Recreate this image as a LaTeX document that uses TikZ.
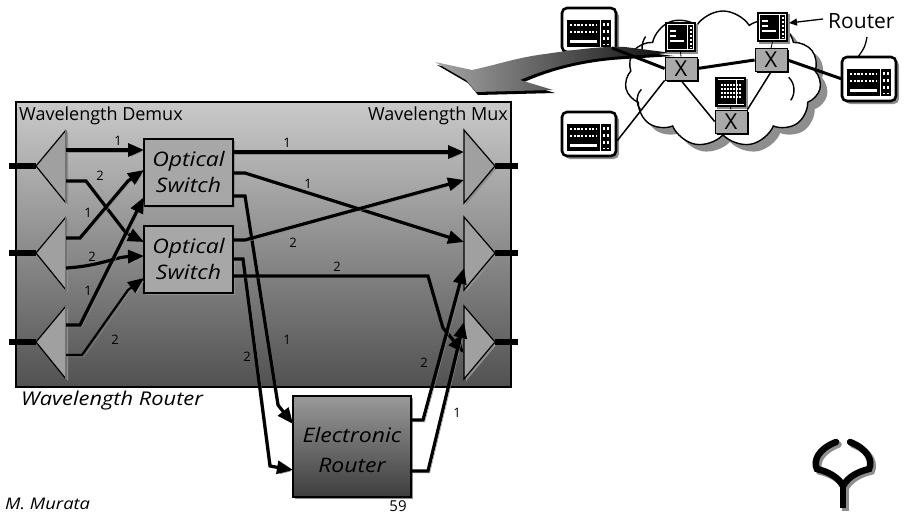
\documentclass[tikz,border=0pt]{standalone}
\usepackage{fontspec}
\setmainfont{Open Sans}
\newfontfamily\wideit{Open Sans}[FakeStretch=1.15]
\usetikzlibrary{arrows.meta,shapes.symbols,shadows}

\definecolor{shadegray}{HTML}{8E8E8E}
\definecolor{trigray}{HTML}{A0A0A0}
\definecolor{switchgray}{HTML}{A7A7A7}
\definecolor{xgray}{HTML}{A9A9A9}

\tikzset{
  wire/.style={line width=3.2pt, preaction={draw=shadegray, transform canvas={shift={(1.8pt,-1.8pt)}}}},
  slimwire/.style={wire, line width=2.2pt},
  arr/.style={-{Triangle[length=16pt,width=13pt]}},
  chan/.style={font=\fontsize{13}{13}\selectfont, inner sep=0pt},
  fiber/.style={line width=6pt},
  switchbox/.style={draw, line width=2pt, fill=switchgray, minimum width=89pt, minimum height=67pt,
    align=center, inner sep=0pt, font=\wideit\itshape\fontsize{20}{26}\selectfont,
    drop shadow={shadow xshift=2pt, shadow yshift=-2pt, fill=shadegray, opacity=1}},
  xbox/.style={draw, line width=0.8pt, fill=xgray, minimum width=32pt, minimum height=23pt,
    inner sep=0pt, font=\fontsize{22}{22}\selectfont,
    drop shadow={shadow xshift=1.5pt, shadow yshift=-1.5pt, fill=black, opacity=1}},
  netthick/.style={line width=3pt},
  netthin/.style={line width=1.5pt},
  terminal/.pic={
    \fill[shadegray, rounded corners=5pt] (3,3) rectangle (57,47);
    \draw[line width=2.6pt, fill=white, rounded corners=5pt] (0,0) rectangle (54,44);
    \fill (5,12) rectangle (49,39);
    \draw[white, line width=2.4pt, dash pattern=on 2.2pt off 1.5pt] (8,17) -- (35,17) (8,24) -- (35,24);
    \fill[white] (8,32) rectangle (35,35);
    \draw[white, line width=0.9pt] (38,12) -- (38,39);
    \draw[white, line width=2.6pt, dash pattern=on 2.6pt off 4.4pt] (42,15) -- (42,37) (46,15) -- (46,37);
  },
  monitor/.pic={
    \fill[shadegray] (2,2) rectangle (33,32);
    \fill (0,0) rectangle (31,30);
    \draw[white, line width=0.7pt] (2.5,2.5) rectangle (28.5,27.5);
    \draw[white, line width=1.6pt] (5,9) -- (11,9) (5,14) -- (11,14) (5,19) -- (19,19);
    \draw[white, line width=0.7pt] (22,2.5) -- (22,27.5);
    \draw[white, line width=2pt, dash pattern=on 2pt off 2pt] (25.5,5) -- (25.5,26);
  },
  listmonitor/.pic={
    \fill[shadegray] (2,2) rectangle (33,32);
    \fill (0,0) rectangle (31,30);
    \draw[white, line width=0.7pt] (2.5,2.5) -- (28.5,2.5) (2.5,27.5) -- (28.5,27.5);
    \draw[white, line width=1.6pt, dash pattern=on 2pt off 1pt] (6,8) -- (26,8) (6,12) -- (26,12) (6,16) -- (26,16) (6,20) -- (26,20);
    \draw[white, line width=0.7pt] (21,2.5) -- (21,27.5);
  },
}

\begin{document}
\begin{tikzpicture}[x=1pt, y=-1pt]
\useasboundingbox (0,0) rectangle (908,514);

% ---------------- wavelength router frame ----------------
\shade[top color=black!21, middle color=black!35, bottom color=black!68]
  (16,102) rectangle (511,387);
\draw[line width=1.8pt] (16,102) rectangle (511,387);
\node[anchor=base west, font=\fontsize{18}{18}\selectfont, inner sep=0pt] (demuxlbl) at (19,120) {Wavelength Demux};
\node[anchor=base east, font=\fontsize{18}{18}\selectfont, inner sep=0pt] (muxlbl) at (508,120) {Wavelength Mux};
\node[anchor=base west, font=\wideit\itshape\fontsize{19}{19}\selectfont, inner sep=0pt] (routerlbl) at (21,405) {Wavelength Router};

% ---------------- demultiplexers ----------------
\foreach \yc/\nm in {166/d1, 253/d2, 342/d3}{
  \fill[shadegray] (68,\yc-34) -- (38,\yc+2) -- (68,\yc+39) -- cycle;
  \fill[trigray] (66,\yc-36) -- (36,\yc) -- (66,\yc+37) -- cycle;
  \draw[line width=1.2pt] (66,\yc-36) -- (36,\yc) -- (66,\yc+37);
  \draw[black!55, line width=2pt] (66,\yc-36) -- (66,\yc+37);
  \coordinate (\nm apex) at (36,\yc);
  \coordinate (\nm in) at (9,\yc);
  \draw[fiber] (\nm in) -- (\nm apex);
}

% ---------------- multiplexers ----------------
\foreach \yc/\nm in {166/m1, 253/m2, 342/m3}{
  \fill[shadegray] (466,\yc-34) -- (497,\yc+2) -- (466,\yc+39) -- cycle;
  \draw[line width=1.2pt, fill=trigray] (464,\yc-36) -- (495,\yc) -- (464,\yc+37) -- cycle;
  \coordinate (\nm apex) at (495,\yc);
  \coordinate (\nm out) at (518,\yc);
  \draw[fiber] (\nm apex) -- (\nm out);
}

% ---------------- optical switches ----------------
\node[switchbox] (sw1) at (188.5,172) {Optical\\Switch};
\node[switchbox] (sw2) at (188.5,259) {Optical\\Switch};

% ---------------- electronic router ----------------
\shade[top color=black!40, bottom color=black!76, drop shadow={shadow xshift=2pt, shadow yshift=-2pt, fill=shadegray, opacity=1}]
  (293,396) rectangle (411,497);
\draw[line width=1.8pt] (293,396) rectangle (411,497);
\node[align=center, font=\wideit\itshape\fontsize{20}{30}\selectfont, inner sep=0pt] (er) at (352,450) {Electronic\\Router};

% ---------------- ports ----------------
\coordinate (d1a) at (66,150);  \coordinate (d1b) at (66,181);
\coordinate (d2a) at (66,238);  \coordinate (d2b) at (66,268);
\coordinate (d3a) at (66,325);  \coordinate (d3b) at (66,355);
\coordinate (s1a) at (144,150); \coordinate (s1b) at (144,170); \coordinate (s1c) at (144,197);
\coordinate (s2a) at (144,242); \coordinate (s2b) at (144,256); \coordinate (s2c) at (144,278);
\coordinate (s1x) at (233,152); \coordinate (s1y) at (233,173); \coordinate (s1z) at (233,196);
\coordinate (s2x) at (233,240); \coordinate (s2y) at (233,259); \coordinate (s2z) at (233,276);
\coordinate (m1a) at (464,152); \coordinate (m1b) at (464,180);
\coordinate (m2a) at (464,242); \coordinate (m2b) at (464,268);
\coordinate (m3a) at (464,322); \coordinate (m3b) at (464,353);
\coordinate (ea) at (293,424);  \coordinate (eb) at (293,470);
\coordinate (ex) at (411,420);  \coordinate (ey) at (411,471);

% ---------------- demux -> switches ----------------
\draw[wire, arr] (d1a) -- (s1a);
\draw[wire, arr] (d1b) -- (86,181) -- (126,233) -- (s2a);
\draw[wire, arr] (d2a) -- (80,238) -- (128,181) -- (s1b);
\draw[wire, arr] (d2b) .. controls (100,266) and (115,257) .. (s2b);
\draw[wire, arr] (d3a) -- (80,325) -- (s1c);
\draw[slimwire, arr] (d3b) -- (82,355) -- (128,290) -- (s2c);

% ---------------- switches -> mux / electronic router ----------------
\draw[wire, arr] (s1x) -- (m1a);
\draw[wire, arr] (s1y) -- (245,173) -- (m2a);
\draw[wire, arr] (s1z) -- (245,196) -- (278,405) -- (ea);
\draw[wire, arr] (s2x) -- (245,240) -- (m1b);
\draw[wire, arr] (s2y) -- (243,259) -- (270,466) -- (eb);
\draw[wire, arr] (s2z) -- (428,276) -- (443,328) -- (m3b);

% ---------------- electronic router -> mux ----------------
\draw[wire, arr] (ex) -- (423,420) -- (m2b);
\draw[wire, arr] (ey) -- (428,471) -- (m3a);

% ---------------- wavelength numbers ----------------
\node[chan] (n1) at (118,141) {1};
\node[chan] (n2) at (100,176) {2};
\node[chan] (n3) at (88,213) {1};
\node[chan] (n4) at (92,257) {2};
\node[chan] (n5) at (88,291) {1};
\node[chan] (n6) at (115,340) {2};
\node[chan] (n7) at (287,143) {1};
\node[chan] (n8) at (308,184) {1};
\node[chan] (n9) at (293,243) {2};
\node[chan] (n10) at (337,267) {2};
\node[chan] (n11) at (287,340) {1};
\node[chan] (n12) at (247,357) {2};
\node[chan] (n13) at (424,363) {2};
\node[chan] (n14) at (457,413) {1};

% ---------------- footer ----------------
\node[anchor=west, font=\wideit\itshape\fontsize{16}{16}\selectfont, inner sep=0pt] (author) at (5,504) {M. Murata};
\node[font=\fontsize{15}{15}\selectfont, inner sep=0pt] (page) at (398,506) {59};

% ---------------- network sketch ----------------
\node[cloud, cloud puffs=11, cloud puff arc=115, draw, line width=1.4pt, fill=white,
  minimum width=196pt, minimum height=136pt,
  drop shadow={shadow xshift=7pt, shadow yshift=-7pt, fill=shadegray, opacity=1}] (cloud) at (723,79) {};
% inner lobe outlines of the cloud
\draw[line width=1.4pt] (662,48) ++(215:20) arc[start angle=215, end angle=150, radius=20];
\draw[line width=1.4pt] (652,100) ++(225:15) arc[start angle=225, end angle=140, radius=15];
\draw[line width=1.4pt] (776,90) ++(-45:18) arc[start angle=-45, end angle=35, radius=18];

\pic at (562,8) {terminal};
\pic at (562,112) {terminal};
\pic at (842,57) {terminal};
\coordinate (t1) at (612,48);
\coordinate (t2) at (617,141);
\coordinate (t3) at (842,79);
\coordinate (t3top) at (858,57);

% light beam entering the network
\fill[black] (437,65) -- (474,73) .. controls (500,67) and (515,61) .. (545,57)
  .. controls (580,52) and (605,49) .. (625,50) -- (674,56) -- (625,59)
  .. controls (590,61) and (555,68) .. (522,83) -- (555,93) -- (478,95) -- (468,83) -- cycle;
\shade[left color=black!35, right color=black!95] (435,62) -- (472,70) .. controls (500,64) and (515,58) .. (545,54)
  .. controls (580,49) and (605,46) .. (625,47) -- (672,53) -- (625,56)
  .. controls (590,58) and (555,65) .. (520,80) -- (553,90) -- (476,92) -- (466,80) -- cycle;

% routers
\pic at (665,22) {monitor};
\pic at (757,12) {monitor};
\pic at (715,77) {listmonitor};
\node[xbox] (x1) at (681,68.5) {X};
\node[xbox] (x2) at (771,60) {X};
\node[xbox] (x3) at (731,121.5) {X};
\draw[line width=0.8pt] (680.5,52) -- (x1.north);
\draw[line width=0.8pt] (772.5,42) -- (x2.north);
\draw[line width=0.8pt] (730.5,107) -- (x3.north);

\draw[netthick] (t1) -- (x1.west);
\draw[netthick] (x1.east) -- (x2.west);
\draw[netthick] (x2.east) -- (t3);
\draw[netthin] (x1.south west) -- (t2);
\draw[netthin] (x1.south) -- (x3.west);
\draw[netthin] (x2.south) -- (x3.north east);

\node[anchor=base west, font=\fontsize{21}{21}\selectfont, inner sep=0pt] (rtlbl) at (828,28) {Router};
\coordinate (r2side) at (789,23);
\draw[line width=1.3pt, -{Triangle[length=8pt,width=7pt]}] (823,19) -- (r2side);
\draw[line width=1.3pt] (867,37) .. controls (865,47) .. (t3top);

% ---------------- emblem ----------------
\begin{scope}[line width=6.5pt, line cap=round]
  \begin{scope}[draw=shadegray, shift={(2.5,2.5)}]
    \draw (836,442) .. controls (818,449) and (813,461) .. (817,469) .. controls (829,472) and (838,477) .. (843,486);
    \draw (850,442) .. controls (868,449) and (873,461) .. (869,469) .. controls (857,472) and (848,477) .. (843,486);
    \draw[line cap=butt] (843,484) -- (843,508);
  \end{scope}
  \draw (836,442) .. controls (818,449) and (813,461) .. (817,469) .. controls (829,472) and (838,477) .. (843,486);
  \draw (850,442) .. controls (868,449) and (873,461) .. (869,469) .. controls (857,472) and (848,477) .. (843,486);
  \draw[line cap=butt] (843,484) -- (843,508);
\end{scope}
\end{tikzpicture}
\end{document}
